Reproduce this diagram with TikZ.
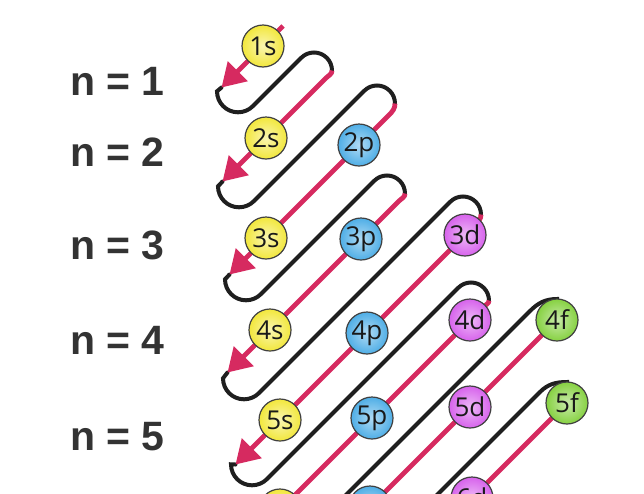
\documentclass[tikz,border=0pt]{standalone}
\usepackage{fontspec}
\setmainfont{Liberation Sans}
\newfontfamily\orbfont{Open Sans}
\usetikzlibrary{arrows.meta}
\definecolor{redl}{HTML}{D62A60}
\definecolor{blk}{HTML}{1F1F1F}
\definecolor{cy}{HTML}{F2E73C}
\definecolor{cb}{HTML}{4FAEE6}
\definecolor{cm}{HTML}{D763EC}
\definecolor{cg}{HTML}{86D141}
\definecolor{lab}{HTML}{333333}
\tikzset{
  redpath/.style={draw=redl, line width=4.8pt},
  redarrow/.style={-{Triangle[length=23pt,width=27pt]}},
  blkpath/.style={draw=blk, line width=4pt, line cap=round},
  orb/.style={circle, minimum size=42pt, inner sep=0pt, draw=black!75, line width=1.2pt,
    font=\orbfont\fontsize{26}{26}\selectfont, text=black!90},
  sorb/.style={orb, inner color=cy!40!white, outer color=cy},
  porb/.style={orb, inner color=cb!45!white, outer color=cb},
  dorb/.style={orb, inner color=cm!45!white, outer color=cm},
  forb/.style={orb, inner color=cg!45!white, outer color=cg},
  nlab/.style={anchor=base west, inner sep=0pt, font=\bfseries\fontsize{41}{41}\selectfont, text=lab}
}
\begin{document}
\begin{tikzpicture}[x=1pt,y=1pt]
\useasboundingbox (0,0) rectangle (644,-493);
\clip (0,0) rectangle (644,-493);
% key points
\coordinate (R1) at (283,-26);
\coordinate (A1) at (221.5,-87.5);
\coordinate (A2) at (222.5,-181.5);
\coordinate (A3) at (229.5,-274.5);
\coordinate (A4) at (227.5,-372.5);
\coordinate (A5) at (235.5,-464.5);
\coordinate (E1) at (332,-70.5);
\coordinate (E2) at (395,-103.5);
\coordinate (E3) at (405,-193.5);
\coordinate (E4) at (481,-214.5);
\coordinate (E5) at (489,-300.5);
\coordinate (S2) at (326,-78);
\coordinate (S3) at (389,-115);
\coordinate (S4) at (399,-201);
\coordinate (S5) at (475,-225);
\coordinate (S6) at (483,-307);
\coordinate (Z6) at (250,-540);
\coordinate (Z7) at (300,-577);
\coordinate (Z8) at (400,-570);
\coordinate (F6) at (250,-591);
\coordinate (F7) at (330,-602);
\coordinate (P6) at (530,-311);
\coordinate (P7) at (540,-392);
\coordinate (O4f) at (557,-320);
\coordinate (O5f) at (567,-403);
\coordinate (Q6) at (557,-299);
\coordinate (Q7) at (567,-382);
% black serpentine
\draw[blkpath] (A1) -- (217,-91.3) arc[start angle=180,end angle=315,radius=21pt]
  -- (301.27,-57.77) arc[start angle=135,end angle=0,radius=18pt];
\draw[blkpath] (A2) -- (218,-186.3) arc[start angle=180,end angle=315,radius=21pt]
  -- (364.27,-90.77) arc[start angle=135,end angle=0,radius=18pt];
\draw[blkpath] (A3) -- (225,-279.3) arc[start angle=180,end angle=315,radius=21pt]
  -- (374.27,-180.77) arc[start angle=135,end angle=0,radius=18pt];
\draw[blkpath] (A4) -- (223,-378.3) arc[start angle=180,end angle=315,radius=21pt]
  -- (450.27,-201.77) arc[start angle=135,end angle=0,radius=18pt];
\draw[blkpath] (A5) -- (231,-464.3) arc[start angle=180,end angle=315,radius=21pt]
  -- (458.27,-287.77) arc[start angle=135,end angle=0,radius=18pt];
\draw[blkpath] (F6) -- (P6) to[out=45,in=180] (Q6) -- (O4f);
\draw[blkpath] (F7) -- (P7) to[out=45,in=180] (Q7) -- (O5f);
% red diagonals
\draw[redpath,redarrow] (R1) -- (A1);
\draw[redpath,redarrow] (E1) to[out=-90,in=45] (S2) -- (A2);
\draw[redpath,redarrow] (E2) to[out=-90,in=45] (S3) -- (A3);
\draw[redpath,redarrow] (E3) to[out=-90,in=45] (S4) -- (A4);
\draw[redpath,redarrow] (E4) to[out=-90,in=45] (S5) -- (A5);
\draw[redpath] (E5) to[out=-90,in=45] (S6) -- (Z6);
\draw[redpath] (O4f) -- (Z7);
\draw[redpath] (O5f) -- (Z8);
% orbitals
\node[sorb] (n1s) at (263,-46) {1s};
\node[sorb] (n2s) at (266,-138) {2s};
\node[porb] (n2p) at (359,-145) {2p};
\node[sorb] (n3s) at (266,-238) {3s};
\node[porb] (n3p) at (361,-239) {3p};
\node[dorb] (n3d) at (465,-235) {3d};
\node[sorb] (n4s) at (270,-330) {4s};
\node[porb] (n4p) at (367,-333) {4p};
\node[dorb] (n4d) at (470,-320) {4d};
\node[forb] (n4f) at (557,-320) {4f};
\node[sorb] (n5s) at (280,-420) {5s};
\node[porb] (n5p) at (372,-418) {5p};
\node[dorb] (n5d) at (470,-407) {5d};
\node[forb] (n5f) at (567,-403) {5f};
\node[sorb] (n6s) at (280,-510) {6s};
\node[porb] (n6p) at (370,-507) {6p};
\node[dorb] (n6d) at (472,-498) {6d};
% shell labels
\node[nlab] (lab1) at (70,-95) {n = 1};
\node[nlab] (lab2) at (70,-166) {n = 2};
\node[nlab] (lab3) at (70,-259) {n = 3};
\node[nlab] (lab4) at (70,-354) {n = 4};
\node[nlab] (lab5) at (70,-450) {n = 5};
\end{tikzpicture}
\end{document}
